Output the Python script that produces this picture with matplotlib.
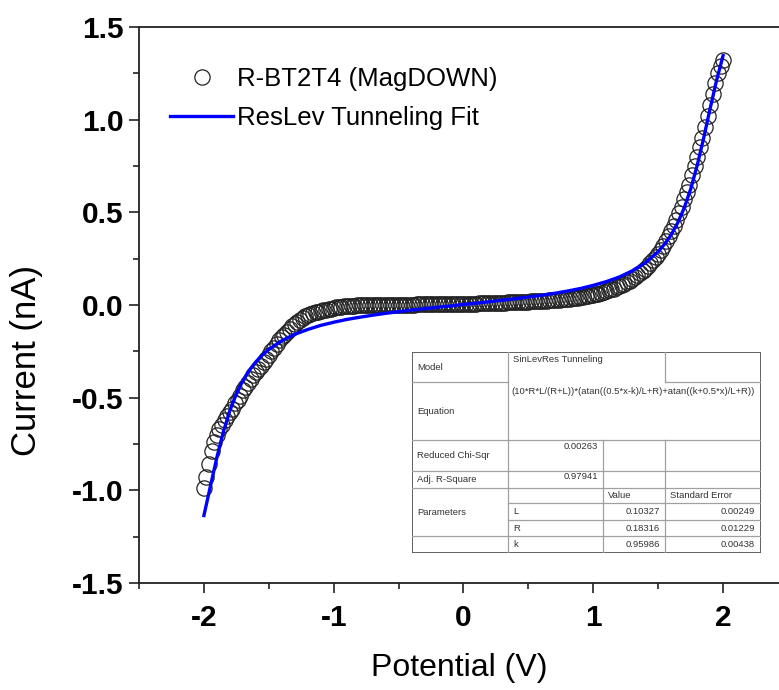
import numpy as np
import matplotlib
matplotlib.use("Agg")
import matplotlib.pyplot as plt
from matplotlib.ticker import MultipleLocator

plt.rcParams["font.family"] = ["Liberation Sans", "DejaVu Sans"]
plt.rcParams["axes.unicode_minus"] = False

voltage = np.round(np.linspace(-2.0, 2.0, 201), 2)
current = [
    -0.99, -0.93, -0.86, -0.79, -0.74, -0.70, -0.67, -0.65, -0.62, -0.60,
    -0.58, -0.56, -0.53, -0.51, -0.49, -0.46, -0.44, -0.42, -0.40, -0.38,
    -0.36,
    -0.345, -0.33, -0.31, -0.29, -0.27, -0.25, -0.23, -0.21, -0.19, -0.175,
    -0.16, -0.145, -0.13, -0.115, -0.10, -0.09, -0.08, -0.07, -0.062, -0.055,
    -0.05, -0.045, -0.04, -0.036, -0.032, -0.028, -0.025, -0.022, -0.019, -0.016,
    -0.013, -0.011, -0.009, -0.007, -0.005, -0.004, -0.003, -0.003, -0.002, -0.002,
    -0.002, -0.001, -0.001, -0.001, 0.0, 0.0, 0.0, 0.0, 0.0, 0.0,
    0.001, 0.001, 0.001, 0.001, 0.001, 0.002, 0.002, 0.002, 0.002, 0.002,
    0.002, 0.003, 0.003, 0.003, 0.003, 0.003, 0.004, 0.004, 0.004, 0.004,
    0.004, 0.005, 0.005, 0.005, 0.005, 0.006, 0.006, 0.006, 0.006, 0.007,
    0.007, 0.007, 0.008, 0.008, 0.008, 0.009, 0.009, 0.009, 0.010, 0.010,
    0.011, 0.011, 0.012, 0.012, 0.013, 0.013, 0.014, 0.014, 0.015, 0.015,
    0.016, 0.016, 0.017, 0.018, 0.018, 0.019, 0.020, 0.020, 0.021, 0.022,
    0.023, 0.024, 0.025, 0.026, 0.027, 0.028, 0.029, 0.030, 0.032, 0.033,
    0.035, 0.036, 0.038, 0.040, 0.042, 0.044, 0.046, 0.049, 0.052, 0.055,
    0.058, 0.062, 0.066, 0.070, 0.074, 0.079, 0.084, 0.089, 0.095, 0.101,
    0.108, 0.115, 0.123, 0.131, 0.140, 0.150, 0.160, 0.171, 0.183, 0.196,
    0.210, 0.225, 0.241, 0.258, 0.277, 0.298, 0.320, 0.344, 0.370, 0.398,
    0.428, 0.460, 0.494, 0.53, 0.57, 0.61, 0.65, 0.70, 0.75, 0.80,
    0.85, 0.90, 0.96, 1.02, 1.08, 1.14, 1.20, 1.25, 1.29, 1.32,
]

# fitted curve
fit_voltage = [-2.0, -1.95, -1.9, -1.85, -1.8, -1.75, -1.7, -1.65, -1.6, -1.55,
               -1.5, -1.4, -1.3, -1.2, -1.1, -1.0, -0.9, -0.8, -0.7, -0.6,
               -0.5, -0.4, -0.3, -0.2, -0.1, 0.0, 0.1, 0.2, 0.3, 0.4,
               0.5, 0.6, 0.7, 0.8, 0.9, 1.0, 1.1, 1.2, 1.3, 1.4,
               1.5, 1.55, 1.6, 1.65, 1.7, 1.75, 1.8, 1.85, 1.9, 1.95, 2.0]
fit_current = [-1.136, -0.978, -0.822, -0.684, -0.570, -0.480, -0.408, -0.352, -0.307, -0.270,
               -0.240, -0.193, -0.158, -0.132, -0.110, -0.093, -0.078, -0.066, -0.055, -0.045,
               -0.036, -0.027, -0.020, -0.012, -0.005, 0.003, 0.010, 0.018, 0.026, 0.034,
               0.043, 0.052, 0.063, 0.075, 0.089, 0.106, 0.126, 0.151, 0.184, 0.227,
               0.288, 0.329, 0.379, 0.443, 0.523, 0.625, 0.752, 0.900, 1.060, 1.213, 1.346]

data_label = "R-BT2T4 (MagDOWN)"
fit_label = "ResLev Tunneling Fit"

# fit report table
model_name = "SinLevRes Tunneling"
equation = "(10*R*L/(R+L))*(atan((0.5*x-k)/L+R)+atan((k+0.5*x)/L+R))"
chi_sqr = "0.00263"
adj_r2 = "0.97941"
param_names = ["L", "R", "k"]
param_values = ["0.10327", "0.18316", "0.95986"]
param_errors = ["0.00249", "0.01229", "0.00438"]

W, H = 779, 690
fig = plt.figure(figsize=(W / 100, H / 100), dpi=100)
ax = fig.add_axes([139 / W, 107 / H, 649 / W, 556 / H])

ax.plot(voltage, current, "o", ms=11, mfc="none", mec="#222222", mew=0.9,
        label=data_label, zorder=2)
ax.plot(fit_voltage, fit_current, "-", color="#0000ff", lw=2.4,
        label=fit_label, zorder=3)

ax.set_xlim(-2.5, 2.5)
ax.set_ylim(-1.5, 1.5)
ax.xaxis.set_major_locator(MultipleLocator(1))
ax.xaxis.set_minor_locator(MultipleLocator(0.5))
ax.yaxis.set_major_locator(MultipleLocator(0.5))
ax.yaxis.set_minor_locator(MultipleLocator(0.25))
ax.yaxis.set_major_formatter(plt.FuncFormatter(lambda v, p: f"{v:.1f}"))
ax.tick_params(which="both", direction="out", width=1.2, top=False, right=False,
               color="#222222")
ax.tick_params(which="major", length=7, labelsize=21.5)
ax.tick_params(axis="x", which="major", pad=8)
ax.tick_params(axis="y", which="major", pad=4)
ax.tick_params(which="minor", length=4.5)
for lab in ax.get_xticklabels() + ax.get_yticklabels():
    lab.set_fontweight("bold")
for s in ax.spines.values():
    s.set_linewidth(1.3)
    s.set_color("#222222")

ax.set_xlabel("Potential (V)", fontsize=23)
ax.xaxis.set_label_coords(0.493, -0.153)
ax.xaxis.label.set_verticalalignment("center")
ax.set_ylabel("Current (nA)", fontsize=25)
ax.yaxis.set_label_coords(-0.173, 0.40)
ax.yaxis.label.set_verticalalignment("center")

ax.legend(loc="upper left", bbox_to_anchor=(0.048, 0.928), frameon=False,
          fontsize=18.5, handlelength=2.45, handletextpad=0.16, labelspacing=0.6,
          borderpad=0, borderaxespad=0)

# fit report table, drawn in its own pixel-unit axes
tw, th = 349, 201
tab = fig.add_axes([412 / W, (H - 553) / H, tw / W, th / H])
tab.set_xlim(0, tw)
tab.set_ylim(th, 0)
tab.axis("off")
tab.add_patch(plt.Rectangle((0, 0), tw, th, facecolor="white", edgecolor="#555555",
                            lw=1.3, zorder=3))
c1, c2, c3 = 96, 191, 253
r1, r2, r3, r4, r5, r6, r7 = 30.4, 88.4, 119.4, 136, 151, 167.7, 184.4
grid = "#a0a0a0"
for y, xa, xb in [(r1, 0, c1), (r1, c3, tw), (r2, 0, tw), (r3, 0, tw), (r4, 0, tw),
                  (r5, c1, tw), (r6, c1, tw), (r7, 0, tw)]:
    tab.plot([xa, xb], [y, y], color=grid, lw=0.9, zorder=4)
for x, ya, yb in [(c1, 0, th), (c2, r2, th), (c3, 0, r1), (c3, r2, th)]:
    tab.plot([x, x], [ya, yb], color=grid, lw=0.9, zorder=4)

tfont = dict(fontsize=6.8, color="#333333", zorder=5)
tab.text(5, r1 / 2, "Model", va="center", **tfont)
tab.text(5, (r1 + r2) / 2, "Equation", va="center", **tfont)
tab.text(5, (r2 + r3) / 2, "Reduced Chi-Sqr", va="center", **tfont)
tab.text(5, (r3 + r4) / 2, "Adj. R-Square", va="center", **tfont)
tab.text(5, (r4 + r7) / 2, "Parameters", va="center", **tfont)
tab.text(c1 + 5, 8, model_name, va="center", **tfont)
tab.text(c1 + 3, 39, equation, va="center", **tfont)
tab.text(c2 - 5, r2 + 6.5, chi_sqr, va="center", ha="right", **tfont)
tab.text(c2 - 5, r3 + 5, adj_r2, va="center", ha="right", **tfont)
tab.text(c2 + 5, (r4 + r5) / 2, "Value", va="center", **tfont)
tab.text(c3 + 5, (r4 + r5) / 2, "Standard Error", va="center", **tfont)
row_mid = [(r5 + r6) / 2, (r6 + r7) / 2, (r7 + th) / 2]
for name, val, err, ym in zip(param_names, param_values, param_errors, row_mid):
    tab.text(c1 + 5, ym, name, va="center", **tfont)
    tab.text(c3 - 5, ym, val, va="center", ha="right", **tfont)
    tab.text(tw - 6, ym, err, va="center", ha="right", **tfont)

fig.savefig("out.png", dpi=100)
